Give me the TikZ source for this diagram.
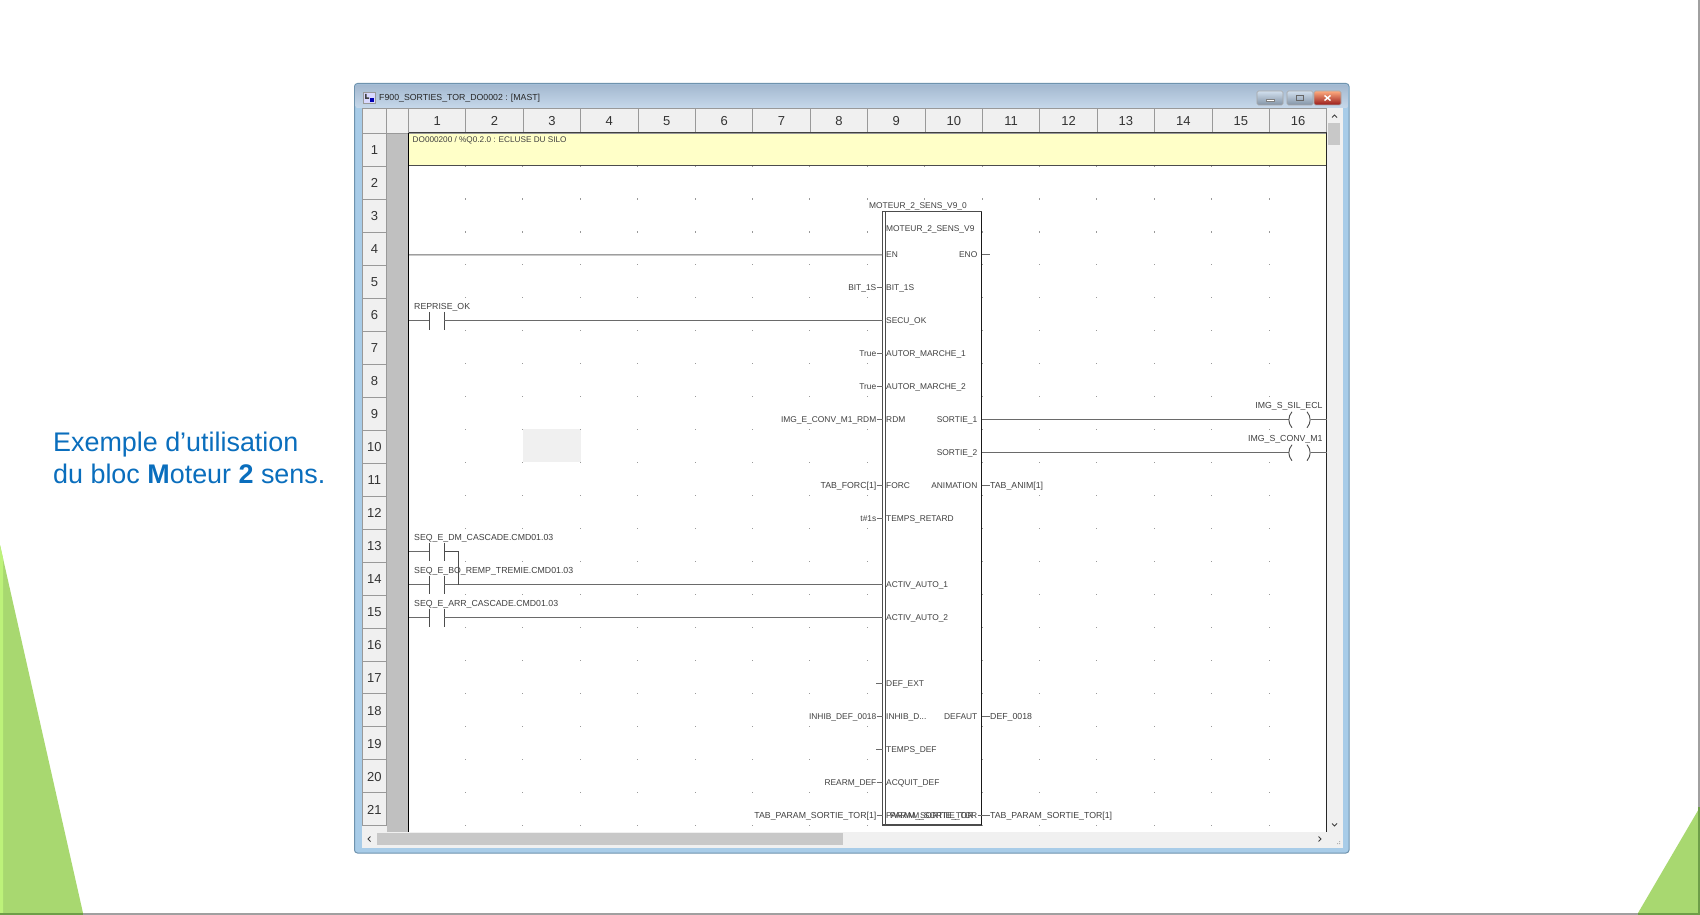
\documentclass[tikz,border=0pt]{standalone}
\usepackage{fontspec}
\setmainfont{Liberation Sans}
\definecolor{slideblue}{HTML}{0A6EBD}
\definecolor{slidegreen}{HTML}{A8D870}
\definecolor{stripgreen}{HTML}{BDF27A}
\definecolor{edgegreen}{HTML}{6E9E48}
\definecolor{edgegray}{HTML}{A0A0A0}
\definecolor{frameblue}{HTML}{A8CCE8}
\definecolor{frameline}{HTML}{6F93AE}
\definecolor{titletop}{HTML}{A3B8CF}
\definecolor{titlebot}{HTML}{C6D8EA}
\definecolor{panel}{HTML}{F0F0F0}
\definecolor{thumb}{HTML}{C8C8C8}
\definecolor{band}{HTML}{C0C0C0}
\definecolor{note}{HTML}{FFFFC8}
\definecolor{wirecol}{HTML}{6A6A6A}
\definecolor{inkcol}{HTML}{404040}
\tikzset{
	small/.style={font=\fontsize{8.4}{10}\selectfont, text=inkcol, inner sep=0pt, text height=6pt, text depth=0pt},
	wide/.style={font=\fontsize{8.75}{10}\selectfont},
	pinin/.style={small, anchor=west},
	pinout/.style={small, anchor=east},
	hdrcell/.style={draw=black!40, fill=panel, line width=0.9pt, anchor=north west, inner sep=0pt, text=black!80, text height=9.9pt, text depth=0pt, font=\fontsize{13}{15}\selectfont},
	wire/.style={draw=wirecol, line width=1.1pt},
	contact/.style={draw=black!70, line width=0.9pt},
	winbtn/.style={draw=black!35, rounded corners=1.5pt, line width=0.6pt}
}
\begin{document}
\begin{tikzpicture}[x=1pt,y=-1pt]
	\useasboundingbox (0,0) rectangle (1700,915);
	\fill[white] (0,0) rectangle (1700,915);
	\fill[edgegray] (1698,0) rectangle (1700,915);
	\fill[edgegray] (0,913) rectangle (1700,915);
	\fill[slidegreen] (0,545) -- (83,913) -- (0,913) -- cycle;
	\fill[stripgreen] (0,545) -- (3,558) -- (3,913) -- (0,913) -- cycle;
	\fill[slidegreen] (1700,807) -- (1638,913) -- (1700,913) -- cycle;
	\fill[edgegreen] (0,913) rectangle (83,915);
	\fill[edgegreen] (1638,913) rectangle (1700,915);
	\fill[edgegreen] (1698,807) rectangle (1700,915);

	\node[anchor=base west, inner sep=0pt, text=slideblue, font=\fontsize{26.9}{32}\selectfont] (line1) at (53,451) {Exemple d’utilisation};
	\node[anchor=base west, inner sep=0pt, text=slideblue, font=\fontsize{26.9}{32}\selectfont] (line2) at (53,483) {du bloc \textbf{M}oteur \textbf{2} sens.};

	\draw[frameline, fill=frameblue, rounded corners=3pt, line width=1pt] (354.5,83.5) rectangle (1349,853);
	\shade[top color=titletop, bottom color=titlebot, rounded corners=2pt] (355.5,84.5) rectangle (1348,108);
	\fill[blue!15, draw=black!40, line width=0.4pt] (363,92) rectangle (375,103);
	\fill[black!75] (365,94) rectangle (366.5,99) (365,97.5) rectangle (369,99);
	\fill[blue!70!black] (370,98) rectangle (373.5,102);
	\node[anchor=west, inner sep=0pt, text=black!85, font=\fontsize{8.75}{10}\selectfont] (wintitle) at (379,98.7) {F900\_SORTIES\_TOR\_DO0002 : [MAST]};
	\shade[winbtn, top color=titlebot!80!white, bottom color=titletop!80!black] (1257,91) rectangle (1283,105);
	\shade[winbtn, top color=titlebot!80!white, bottom color=titletop!80!black] (1287,91) rectangle (1313,105);
	\shade[winbtn, top color=red!30!orange!50, bottom color=red!55!black!90] (1314,91) rectangle (1341,105);
	\fill[white, draw=black!50, line width=0.4pt] (1266,99.5) rectangle (1274,101.5);
	\draw[black!60, line width=0.8pt] (1296.5,95) rectangle (1303.5,100.5);
	\draw[white, line width=1.4pt] (1324.5,95.5) -- (1330.5,100.5) (1330.5,95.5) -- (1324.5,100.5);

	\fill[panel] (362,108) rectangle (1343,848);
	\fill[white] (409,133) rectangle (1327,832);
	\fill[band] (387,133) rectangle (408,832);
	\fill[note] (409,133) rectangle (1327,165.5);
	\fill[panel] (523,429) rectangle (581,462);

	\node[hdrcell, minimum width=24pt, minimum height=25pt] (corner1) at (362,108) {};
	\node[hdrcell, minimum width=22pt, minimum height=25pt] (corner2) at (386,108) {};
	\foreach \c [evaluate=\c as \cx using 408+57.4*(\c-1)] in {1,...,16}
	\node[hdrcell, minimum width=57.4pt, minimum height=25pt] (col\c) at (\cx,108) {\c};
	\foreach \r [evaluate=\r as \ry using 133+32.97*(\r-1)] in {1,...,21}
	\node[hdrcell, minimum width=24pt, minimum height=32.97pt] (row\r) at (362,\ry) {\r};

	\foreach \c in {1,...,15}{
		\foreach \r in {1,...,21}{
			\pgfmathsetmacro\dotx{408+57.4*\c}
			\pgfmathsetmacro\doty{133+32.97*\r}
			\fill[black!40] (\dotx-0.5,\doty-0.5) rectangle (\dotx+0.5,\doty+0.6);
		}
	}

	\draw[black!75, line width=1pt] (409,133) -- (1327,133);
	\draw[black!70, line width=0.9pt] (409,165.5) -- (1327,165.5);
	\draw[black, line width=1pt] (408.8,133) -- (408.8,832);
	\draw[black!85, line width=1pt] (1326.7,133) -- (1326.7,832);
	\node[small, anchor=west, font=\fontsize{8.2}{10}\selectfont] (rungnote) at (412.5,139.5) {DO000200 / \%Q0.2.0 : ECLUSE DU SILO};

	\fill[thumb] (1328,123) rectangle (1340,145);
	\fill[thumb] (377,833) rectangle (843,845);
	\draw[black!75, line width=1pt] (1332,117.5) -- (1334.5,115) -- (1337,117.5);
	\draw[black!75, line width=1pt] (1332,823.5) -- (1334.5,826) -- (1337,823.5);
	\draw[black!75, line width=1pt] (370.5,836.5) -- (368,839) -- (370.5,841.5);
	\draw[black!75, line width=1pt] (1318.5,836.5) -- (1321,839) -- (1318.5,841.5);
	\fill[black!30] (1337,843) rectangle (1338,844) (1339,843) rectangle (1340,844) (1339,841) rectangle (1340,842);

	\draw[fill=white, draw=black!70, line width=1.1pt] (882.7,211.7) rectangle (981.7,825);
	\draw[black!70, line width=1pt] (885.4,211.7) -- (885.4,825);
	\draw[black!90, line width=1.1pt] (981.7,211.7) -- (981.7,825);
	\node[small, anchor=west] (instname) at (869,205.3) {MOTEUR\_2\_SENS\_V9\_0};
	\node[small, anchor=west] (blockname) at (886,228.3) {MOTEUR\_2\_SENS\_V9};

	\foreach \r/\pin in {4/EN,5/BIT\_1S,6/SECU\_OK,7/AUTOR\_MARCHE\_1,8/AUTOR\_MARCHE\_2,9/RDM,11/FORC,12/TEMPS\_RETARD,14/ACTIV\_AUTO\_1,15/ACTIV\_AUTO\_2,17/DEF\_EXT,18/INHIB\_D.{}.{}.,19/TEMPS\_DEF,20/ACQUIT\_DEF,21/PARAM\_SORTIE\_TOR}{
		\pgfmathsetmacro\wy{156+32.97*(\r-1)}
		\coordinate (in\r) at (882.7,\wy);
		\node[pinin] (pin\r) at (886,\wy) {\pin};
	}
	\foreach \r/\var in {5/BIT\_1S,7/True,8/True,9/IMG\_E\_CONV\_M1\_RDM,12/t\#1s,18/INHIB\_DEF\_0018,20/REARM\_DEF}{
		\pgfmathsetmacro\wy{156+32.97*(\r-1)}
		\node[pinout] (var\r) at (876.5,\wy) {\var};
		\draw[wire] (var\r.east) -- (in\r);
	}
	\foreach \r/\var in {11/TAB\_FORC[1],21/TAB\_PARAM\_SORTIE\_TOR[1]}{
		\pgfmathsetmacro\wy{156+32.97*(\r-1)}
		\node[pinout, wide] (var\r) at (876.5,\wy) {\var};
		\draw[wire] (var\r.east) -- (in\r);
	}
	\foreach \r in {17,19}{
		\pgfmathsetmacro\wy{156+32.97*(\r-1)}
		\coordinate (var\r) at (876,\wy);
		\draw[wire] (var\r) -- (in\r);
	}

	\foreach \r/\pin in {4/ENO,9/SORTIE\_1,10/SORTIE\_2,11/ANIMATION,18/DEFAUT,21/PARAM\_SORTIE\_TOR}{
		\pgfmathsetmacro\wy{156+32.97*(\r-1)}
		\coordinate (out\r) at (981.7,\wy);
		\node[pinout] (pout\r) at (977.5,\wy) {\pin};
	}
	\foreach \r/\var in {4/{},11/TAB\_ANIM[1],18/DEF\_0018,21/TAB\_PARAM\_SORTIE\_TOR[1]}{
		\pgfmathsetmacro\wy{156+32.97*(\r-1)}
		\node[pinin, wide] (res\r) at (990,\wy) {\var};
		\draw[wire] (out\r) -- (res\r.west);
	}
	\draw[wire] (pout21.east) -- (out21);

	\foreach \r/\contactname in {6/REPRISE\_OK,13/SEQ\_E\_DM\_CASCADE.CMD01.03,14/SEQ\_E\_BO\_REMP\_TREMIE.CMD01.03,15/SEQ\_E\_ARR\_CASCADE.CMD01.03}{
		\pgfmathsetmacro\wy{156+32.97*(\r-1)}
		\coordinate (rail\r) at (409,\wy);
		\coordinate (ca\r) at (429.5,\wy);
		\coordinate (cb\r) at (444,\wy);
		\node[pinin, wide] (contact\r) at (414,\wy-14.5) {\contactname};
		\draw[wire] (rail\r) -- (ca\r);
		\draw[contact] (429.5,\wy-9) -- (429.5,\wy+9);
		\draw[contact] (444,\wy-9) -- (444,\wy+9);
	}
	\coordinate (rail4) at (409,254.9);
	\draw[wire] (rail4) -- (in4);
	\foreach \r in {6,14,15}
	\draw[wire] (cb\r) -- (in\r);
	\coordinate (join14) at (458.3,584.6);
	\draw[contact] (cb13) -| (join14);

	\foreach \r/\coilname in {9/IMG\_S\_SIL\_ECL,10/IMG\_S\_CONV\_M1}{
		\pgfmathsetmacro\wy{156+32.97*(\r-1)}
		\coordinate (coilL\r) at (1288.5,\wy);
		\coordinate (coilR\r) at (1310.5,\wy);
		\coordinate (rrail\r) at (1326.7,\wy);
		\node[pinout, wide] (coil\r) at (1322.7,\wy-14.5) {\coilname};
		\draw[wire] (out\r) -- (coilL\r);
		\draw[wire] (coilR\r) -- (rrail\r);
		\draw[contact] (1292,\wy-8) .. controls (1287.8,\wy-3) and (1287.8,\wy+3) .. (1292,\wy+8);
		\draw[contact] (1307,\wy-8) .. controls (1311.2,\wy-3) and (1311.2,\wy+3) .. (1307,\wy+8);
	}
\end{tikzpicture}
\end{document}
